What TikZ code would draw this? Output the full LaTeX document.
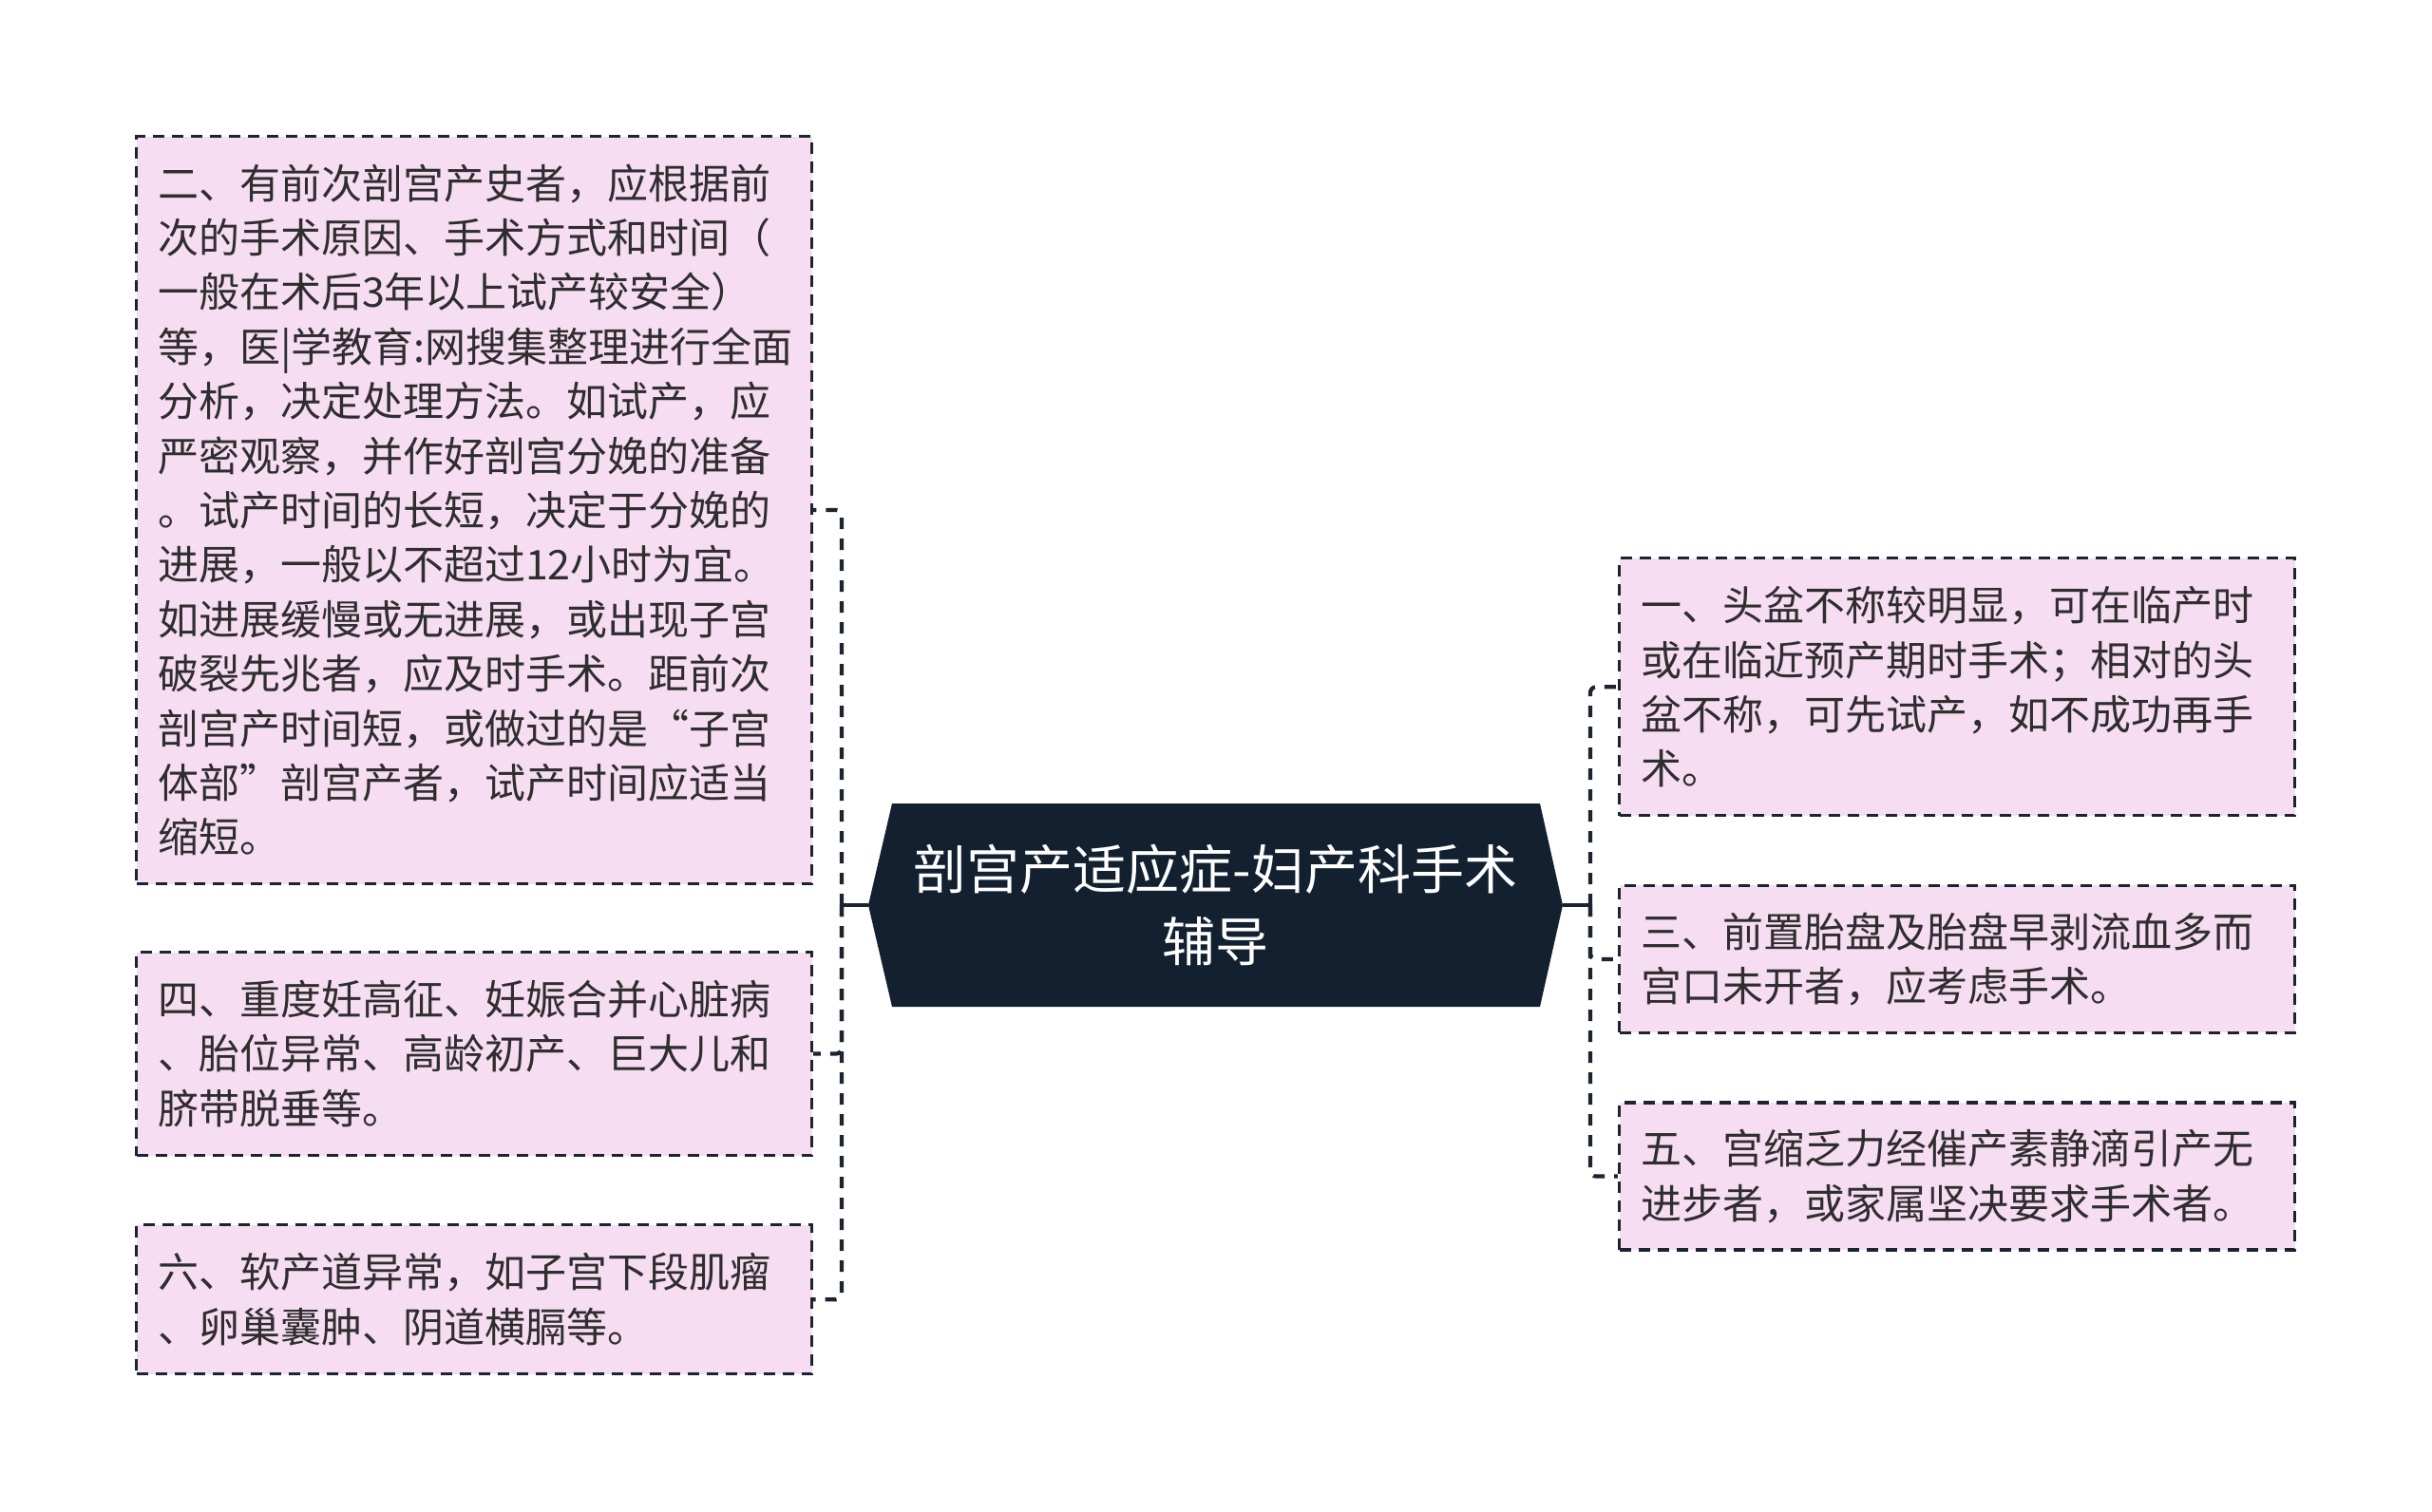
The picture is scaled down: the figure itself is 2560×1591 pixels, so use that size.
\documentclass[tikz,border=0pt]{standalone}
\usepackage{fontspec}
\setmainfont{Noto Sans CJK SC}
\definecolor{linec}{HTML}{1B2430}
\definecolor{textc}{HTML}{2E2E2E}
\definecolor{pinkc}{HTML}{F6DDF1}
\definecolor{rootc}{HTML}{13202F}
\begin{document}
\begin{tikzpicture}[x=1pt,y=-1pt,
  leaf/.style={draw=linec, line width=3.2pt, dash pattern=on 12pt off 8pt,
    fill=pinkc, text=textc, font=\fontsize{43}{57.4}\selectfont,
    align=left, text width=666pt, inner xsep=22.5pt, inner ysep=0pt},
  rootnode/.style={text=white, font=\fontsize{56}{76}\selectfont, align=center,
    minimum width=731pt, minimum height=214pt, inner sep=0pt},
  linkpart/.style={draw=linec, line width=4.2pt},
  linkd/.style={draw=linec, line width=4.2pt, dash pattern=on 12pt off 10pt, rounded corners=6pt}]
\useasboundingbox (0,0) rectangle (2560,1591);
% root hexagon
\fill[rootc] (914,953) -- (939,846) -- (1621,846) -- (1645,953) -- (1621,1060) -- (939,1060) -- cycle;
\node[rootnode] (root) at (1279.5,953) {剖宫产适应症-妇产科手术\\辅导};
% left boxes
\node[leaf, minimum height=787pt] (b2) at (499,537) {二、有前次剖宫产史者，应根据前\\
次的手术原因、手术方式和时间（\\
一般在术后3年以上试产较安全）\\
等，医|学教育:网搜集整理进行全面\\
分析，决定处理方法。如试产，应\\
严密观察，并作好剖宫分娩的准备\\
。试产时间的长短，决定于分娩的\\
进展，一般以不超过12小时为宜。\\
如进展缓慢或无进展，或出现子宫\\
破裂先兆者，应及时手术。距前次\\
剖宫产时间短，或做过的是“子宫\\
体部”剖宫产者，试产时间应适当\\
缩短。};
\node[leaf, minimum height=214pt] (b4) at (499,1109.5) {四、重度妊高征、妊娠合并心脏病\\
、胎位异常、高龄初产、巨大儿和\\
脐带脱垂等。};
\node[leaf, minimum height=157pt] (b6) at (499,1368.2) {六、软产道异常，如子宫下段肌瘤\\
、卵巢囊肿、阴道横膈等。};
% right boxes
\node[leaf, minimum height=271pt] (b1) at (2060,723.3) {一、头盆不称较明显，可在临产时\\
或在临近预产期时手术；相对的头\\
盆不称，可先试产，如不成功再手\\
术。};
\node[leaf, minimum height=155pt] (b3) at (2060,1009.9) {三、前置胎盘及胎盘早剥流血多而\\
宫口未开者，应考虑手术。};
\node[leaf, minimum height=155pt] (b5) at (2060,1238.5) {五、宫缩乏力经催产素静滴引产无\\
进步者，或家属坚决要求手术者。};
% connectors
\coordinate (LT) at (886,953);
\coordinate (RT) at (1674,953);
\draw[linkpart] (root.west) -- (LT);
\draw[linkpart] (root.east) -- (RT);
\draw[linkd] (LT) |- (b2.east);
\draw[linkd] (LT) |- (b4.east);
\draw[linkd] (LT) |- (b6.east);
\draw[linkd] (RT) |- (b1.west);
\draw[linkd] (RT) |- (b3.west);
\draw[linkd] (RT) |- (b5.west);
\end{tikzpicture}
\end{document}
